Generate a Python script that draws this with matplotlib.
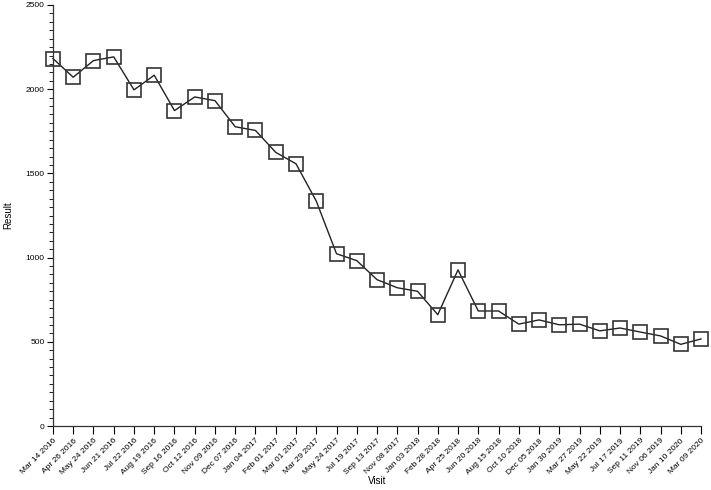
import numpy as np
import matplotlib.pyplot as plt
from matplotlib.ticker import MultipleLocator

# wizyty i wyniki
visits = ['Mar 14 2016', 'Apr 26 2016', 'May 24 2016', 'Jun 21 2016', 'Jul 22 2016',
          'Aug 19 2016', 'Sep 16 2016', 'Oct 12 2016', 'Nov 09 2016', 'Dec 07 2016',
          'Jan 04 2017', 'Feb 01 2017', 'Mar 01 2017', 'Mar 29 2017', 'May 24 2017',
          'Jul 19 2017', 'Sep 13 2017', 'Nov 08 2017', 'Jan 03 2018', 'Feb 28 2018',
          'Apr 25 2018', 'Jun 20 2018', 'Aug 15 2018', 'Oct 10 2018', 'Dec 05 2018',
          'Jan 30 2019', 'Mar 27 2019', 'May 22 2019', 'Jul 17 2019', 'Sep 11 2019',
          'Nov 06 2019', 'Jan 10 2020', 'Mar 09 2020']
result = [2182, 2071, 2170, 2192, 1996, 2083, 1873, 1954, 1932, 1777,
          1755, 1625, 1557, 1336, 1023, 982, 869, 821, 800, 661,
          927, 683, 683, 605, 630, 601, 605, 565, 582, 558,
          535, 485, 517]

plt.rcParams['font.family'] = ['Liberation Sans', 'DejaVu Sans']

fig = plt.figure(figsize=(7.11, 4.9), dpi=100)
ax = fig.add_axes([0.0745, 0.1306, 0.9115, 0.8592])

x = np.arange(len(visits))
ax.plot(x, result, color='#222222', linewidth=1.0, marker='s', markersize=9.5,
        markerfacecolor='none', markeredgecolor='#333333', markeredgewidth=1.2,
        clip_on=False)

ax.set_xlim(0, len(visits) - 1)
ax.set_ylim(0, 2500)
ax.set_xticks(x)
ax.set_xticklabels(visits, rotation=45, ha='right', rotation_mode='anchor', fontsize=6)
ax.yaxis.set_major_locator(MultipleLocator(500))
ax.yaxis.set_minor_locator(MultipleLocator(50))
ax.tick_params(axis='y', labelsize=6, length=4, width=0.8, pad=2)
ax.tick_params(axis='y', which='minor', length=3, width=0.6)
ax.tick_params(axis='x', length=6, width=0.8, pad=2)

for s in ['top', 'right']:
    ax.spines[s].set_visible(False)
for s in ['left', 'bottom']:
    ax.spines[s].set_linewidth(0.9)
    ax.spines[s].set_color('#333333')

ax.set_xlabel('Visit', fontsize=7, labelpad=0)
ax.set_ylabel('Result', fontsize=7, labelpad=9)

fig.savefig('out.png', dpi=100)
